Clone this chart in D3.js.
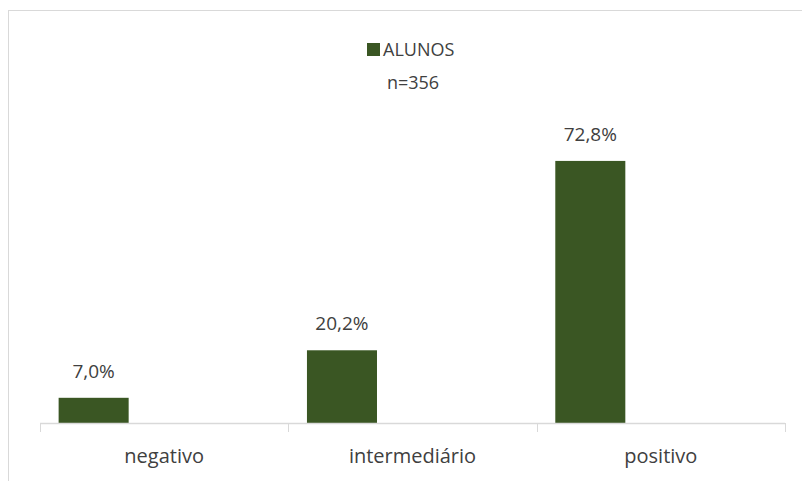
<!DOCTYPE html>
<html>
<head>
<meta charset="utf-8">
<script src="https://cdn.jsdelivr.net/npm/d3@7"></script>
<style>
  body { margin: 0; background: #fff; }
  text { font-family: "Open Sans", sans-serif; fill: #404040; }
</style>
</head>
<body>
<div id="chart"></div>
<script>
var categories = ["negativo", "intermediário", "positivo"];
var values = [7.0, 20.2, 72.8];
var valueLabels = ["7,0%", "20,2%", "72,8%"];
var seriesName = "ALUNOS";
var subtitle = "n=356";

var svgWidth = 802;
var svgHeight = 481;
var barColor = "#3a5623";

var svg = d3.select("#chart").append("svg").attr("width", svgWidth).attr("height", svgHeight);

// outer frame (runs off the right and bottom edge)
svg.append("rect").attr("x", 8.5).attr("y", 10.5).attr("width", 820).attr("height", 500)
    .attr("fill", "none").attr("stroke", "#d9d9d9");

var xScale = d3.scaleBand().domain(categories).range([40, 785]).paddingInner(0).paddingOuter(0);
var yScale = d3.scaleLinear().domain([0, 80]).range([423, 135]);

var bw = xScale.bandwidth();

// bars sit in the left part of each band
svg.selectAll("rect.bar").data(values).enter().append("rect").attr("class", "bar")
    .attr("x", (d, i) => xScale(categories[i]) + bw * 0.075)
    .attr("width", bw * 0.282)
    .attr("y", d => yScale(d))
    .attr("height", d => yScale(0) - yScale(d))
    .attr("fill", barColor);

svg.selectAll("text.val").data(values).enter().append("text").attr("class", "val")
    .attr("x", (d, i) => xScale(categories[i]) + bw * 0.075 + bw * 0.141)
    .attr("y", d => yScale(d) - 20)
    .attr("text-anchor", "middle").attr("font-size", "19px")
    .text((d, i) => valueLabels[i]);

// category axis
svg.append("line").attr("x1", 40).attr("x2", 785).attr("y1", 423.5).attr("y2", 423.5)
    .attr("stroke", "#d9d9d9").attr("stroke-width", 1.5);

var bounds = categories.map(c => xScale(c)).concat([xScale.range()[1]]);
svg.selectAll("line.tick").data(bounds).enter().append("line").attr("class", "tick")
    .attr("x1", d => Math.round(d) + 0.5).attr("x2", d => Math.round(d) + 0.5)
    .attr("y1", 423).attr("y2", 432)
    .attr("stroke", "#d9d9d9");

var xAxis = svg.append("g").attr("transform", "translate(0,423)")
    .call(d3.axisBottom(xScale).tickSize(0).tickPadding(26));
xAxis.select(".domain").remove();
xAxis.selectAll("text").attr("font-size", "20px").attr("font-family", "Open Sans, sans-serif").attr("fill", "#404040");

// legend
var legend = svg.append("g").attr("transform", "translate(367,43)");
legend.append("rect").attr("width", 13).attr("height", 13).attr("fill", barColor);
legend.append("text").attr("x", 16).attr("y", 13).attr("font-size", "18px").text(seriesName);

svg.append("text").attr("x", 413).attr("y", 89).attr("text-anchor", "middle")
    .attr("font-size", "18px").text(subtitle);
</script>
</body>
</html>
